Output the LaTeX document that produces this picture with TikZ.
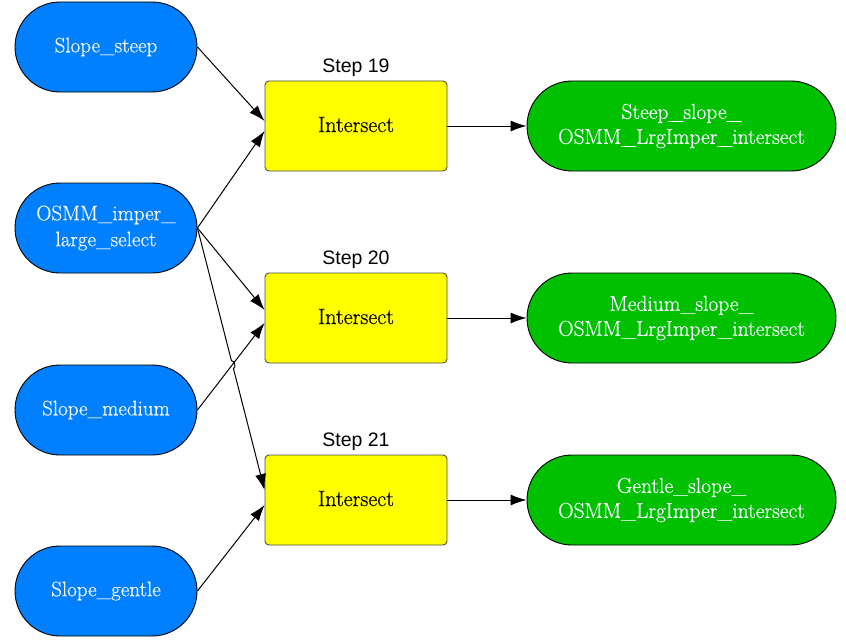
\documentclass[tikz,border=0pt]{standalone}
\usepackage{fontspec}
\newfontfamily\labelfont{Liberation Sans}
\newfontfamily\nodefont{Latin Modern Roman}[FakeBold=0.6]
\usetikzlibrary{arrows.meta,calc,intersections}
\definecolor{inblue}{RGB}{0,128,255}
\definecolor{outgreen}{RGB}{0,192,0}
\definecolor{opyellow}{RGB}{255,255,0}
\definecolor{paletext}{RGB}{246,246,255}
\tikzset{
  input/.style={draw=black, line width=0.9pt, fill=inblue, rounded corners=45pt,
    minimum width=182pt, minimum height=90pt, inner sep=0pt, align=center,
    text=paletext, font=\nodefont\fontsize{21}{26}\selectfont},
  output/.style={draw=black, line width=0.9pt, fill=outgreen, rounded corners=45pt,
    minimum width=309pt, minimum height=90pt, inner sep=0pt, align=center,
    text=paletext, font=\nodefont\fontsize{21.5}{25}\selectfont},
  tool/.style={draw=black!70, line width=0.9pt, fill=opyellow, rounded corners=4pt,
    minimum width=182pt, minimum height=90pt, inner sep=0pt,
    font=\nodefont\fontsize{22}{24}\selectfont},
  steplabel/.style={font=\labelfont\fontsize{19.5}{22}\selectfont, inner sep=0pt},
  link/.style={draw=black, line width=1pt, -{Latex[length=16pt,width=11pt]}}
}
\begin{document}
\begin{tikzpicture}[x=1pt,y=-1pt]
\useasboundingbox (0,0) rectangle (846,642);

% inputs
\node[input] (steep)  at (106,47)  {Slope\_steep};
\node[input] (imper)  at (106,228) {OSMM\_imper\_\\large\_select};
\node[input] (medium) at (106,410) {Slope\_medium};
\node[input] (gentle) at (106,591) {Slope\_gentle};

% tools
\node[tool] (s19) at (356,126) {\raisebox{3pt}{Intersect}};
\node[tool] (s20) at (356,318) {\raisebox{3pt}{Intersect}};
\node[tool] (s21) at (356,500) {\raisebox{3pt}{Intersect}};
\node[steplabel] (l19) at (356,68)  {Step 19};
\node[steplabel] (l20) at (356,260) {Step 20};
\node[steplabel] (l21) at (356,442) {Step 21};

% outputs
\node[output] (o19) at (681.5,126) {Steep\_slope\_\\OSMM\_LrgImper\_intersect};
\node[output] (o20) at (681.5,318) {Medium\_slope\_\\OSMM\_LrgImper\_intersect};
\node[output] (o21) at (681.5,500) {Gentle\_slope\_\\OSMM\_LrgImper\_intersect};

% connectors into step 19
\draw[link] (steep.east) -- ($(s19.west)+(0,-5)$);
\draw[link] (imper.east) -- ($(s19.west)+(0,5)$);
% connectors into step 20
\draw[link] (imper.east) -- ($(s20.west)+(0,-8)$);
\draw[link, name path=medline] (medium.east) -- ($(s20.west)+(0,5)$);
% connectors into step 21, hopping over the medium line
\coordinate (e21) at ($(s21.west)+(0,-10)$);
\path[name path=longline] (imper.east) -- (e21);
\path[name intersections={of=medline and longline, by=X}];
\draw[link] (imper.east) -- ($(X)!4pt!(imper.east)$)
  to[bend left=90] ($(X)!4pt!(e21)$) -- (e21);
\draw[link] (gentle.east) -- ($(s21.west)+(0,5)$);

% tools to outputs
\draw[link] (s19) -- (o19);
\draw[link] (s20) -- (o20);
\draw[link] (s21) -- (o21);
\end{tikzpicture}
\end{document}
